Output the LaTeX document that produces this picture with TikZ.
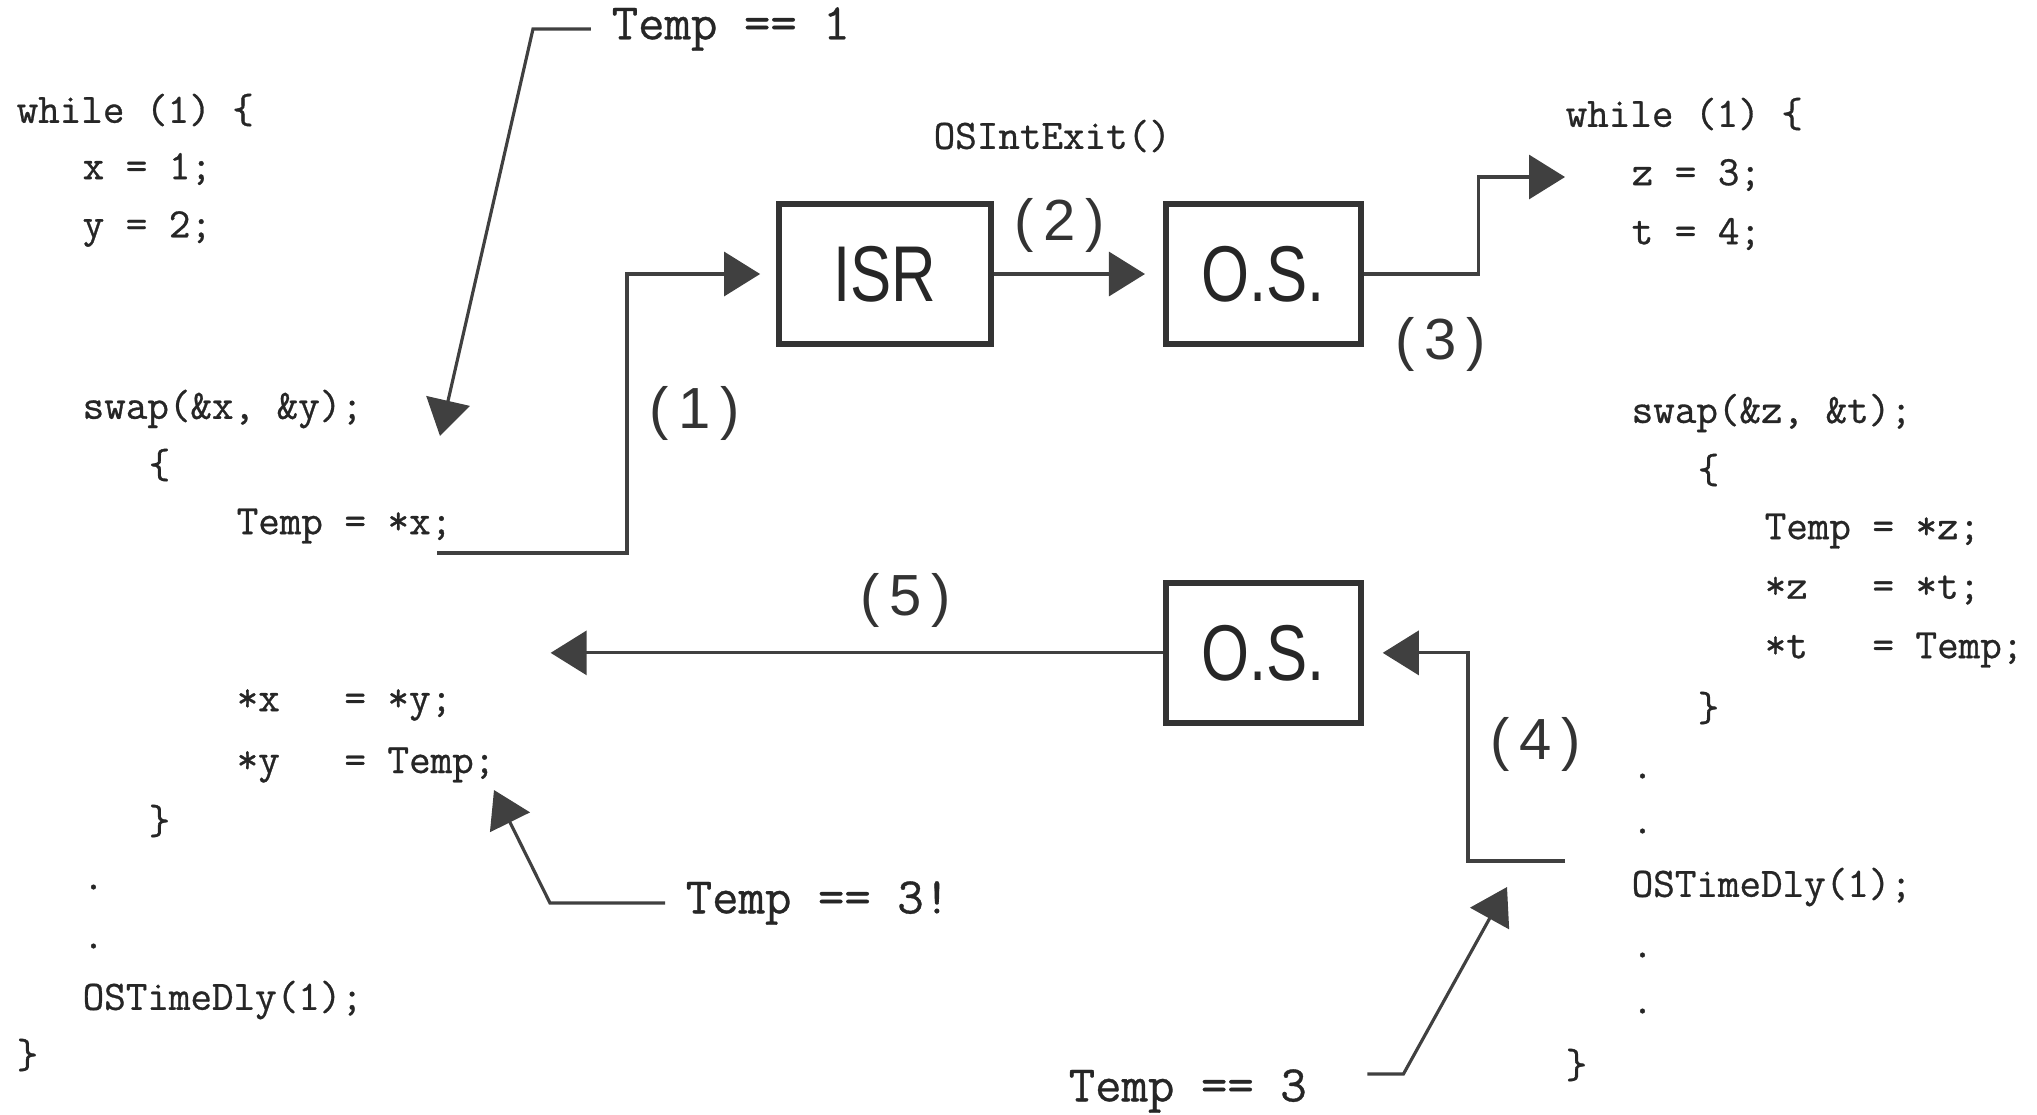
\documentclass[tikz,border=0pt]{standalone}
\usepackage{fontspec}
\setmonofont[FakeBold=0.7]{Latin Modern Mono}
\newfontfamily\boxfont[FakeStretch=0.78]{Liberation Sans}
\newfontfamily\numfont{Liberation Sans}
\usetikzlibrary{arrows.meta, positioning}

\begin{document}
\begin{tikzpicture}[
        x=0.01cm, y=-0.01cm,
        >={Triangle[length=3.6mm, width=4.4mm]},
        Code/.style={anchor=west, inner sep=0pt, font=\ttfamily\fontsize{11.9}{14}\selectfont, text=black!85},
        Note/.style={anchor=west, inner sep=0pt, font=\ttfamily\fontsize{14.6}{17}\selectfont, text=black!85},
        Box/.style={rectangle, draw=black!80, line width=1.6pt, minimum height=1.4cm, font=\boxfont\fontsize{22.5}{26}\selectfont, text=black!85},
        Num/.style={font=\numfont\fontsize{16.5}{20}\selectfont, text=black!80},
        Link/.style={->, draw=black!75, line width=0.9pt}
    ]
    \useasboundingbox (0,0) rectangle (2037,1114);

    % Left task (swap of x and y)
    \node (T1_L1)  [Code] at (16,110)   {while (1) \{};
    \node (T1_L2)  [Code] at (82,169)   {x = 1;};
    \node (T1_L3)  [Code] at (82,229)   {y = 2;};
    \node (T1_L4)  [Code] at (82,409)   {swap(\&x, \&y);};
    \node (T1_L5)  [Code] at (148,465)  {\{};
    \node (T1_L6)  [Code] at (236,526)  {Temp = *x;};
    \node (T1_L7)  [Code] at (236,705)  {*x~~~= *y;};
    \node (T1_L8)  [Code] at (236,765)  {*y~~~= Temp;};
    \node (T1_L9)  [Code] at (148,821)  {\}};
    \node (T1_L10) [Code] at (82,887)   {.};
    \node (T1_L11) [Code] at (82,946)   {.};
    \node (T1_L12) [Code] at (82,1000)  {OSTimeDly(1);};
    \node (T1_L13) [Code] at (16,1055)  {\}};

    % Right task (swap of z and t)
    \node (T2_L1)  [Code] at (1565,114)  {while (1) \{};
    \node (T2_L2)  [Code] at (1631,175)  {z = 3;};
    \node (T2_L3)  [Code] at (1631,234)  {t = 4;};
    \node (T2_L4)  [Code] at (1631,413)  {swap(\&z, \&t);};
    \node (T2_L5)  [Code] at (1697,470)  {\{};
    \node (T2_L6)  [Code] at (1764,531)  {Temp = *z;};
    \node (T2_L7)  [Code] at (1764,590)  {*z~~~= *t;};
    \node (T2_L8)  [Code] at (1764,650)  {*t~~~= Temp;};
    \node (T2_L9)  [Code] at (1697,708)  {\}};
    \node (T2_L10) [Code] at (1631,776)  {.};
    \node (T2_L11) [Code] at (1631,831)  {.};
    \node (T2_L12) [Code] at (1631,887)  {OSTimeDly(1);};
    \node (T2_L13) [Code] at (1631,955)  {.};
    \node (T2_L14) [Code] at (1631,1011) {.};
    \node (T2_L15) [Code] at (1565,1065) {\}};

    % ISR and kernel boxes
    \node (ISR) [Box, minimum width=2.12cm] at (885,274) {ISR};
    \node (OS_1) [Box, minimum width=1.95cm, right=1.69cm of ISR] {O.S.};
    \node (OS_2) [Box, minimum width=1.95cm, below=2.33cm of OS_1] {O.S.};
    \node (EXIT) [Code] at (933,136) {OSIntExit()};

    % Free ends of the connectors
    \coordinate (SRC_1) at (437,553);
    \coordinate (DST_3) at (1565,177);
    \coordinate (SRC_4) at (1565,861);
    \coordinate [left=6.12cm of OS_2.west] (DST_5);

    % Flow of control (1) to (5)
    \draw[Link, shorten >=1.6mm] (SRC_1) -- ++(190,0) |- (ISR.west);
    \draw[Link, shorten >=1.8mm] (ISR) -- (OS_1);
    \draw[Link] (OS_1.east) -- ++(115,0) |- (DST_3);
    \draw[Link, shorten >=1.9mm] (SRC_4) -- ++(-97,0) |- (OS_2.east);
    \draw[Link] (OS_2.west) -- (DST_5);

    \node (N_1) [Num] at (695,413)  {(\,1\,)};
    \node (N_2) [Num] at (1060,225) {(\,2\,)};
    \node (N_3) [Num] at (1441,344) {(\,3\,)};
    \node (N_4) [Num] at (1536,744) {(\,4\,)};
    \node (N_5) [Num] at (906,600)  {(\,5\,)};

    % Values of Temp
    \node (NOTE_T1)  [Note] at (611,29)   {Temp == 1};
    \node (NOTE_T3B) [Note] at (685,903)  {Temp == 3!};
    \node (NOTE_T3)  [Note] at (1068,1091) {Temp == 3};
    \coordinate (TIP_T1)  at (440,436);
    \coordinate (TIP_T3B) at (494,790);
    \coordinate (TIP_T3)  at (1507,887);

    \draw[Link] ([xshift=-2mm]NOTE_T1.west) -- ++(-58,0) -- (TIP_T1);
    \draw[Link] ([xshift=-2mm]NOTE_T3B.west) -- ++(-115,0) -- (TIP_T3B);
    \draw[Link] ([xshift=6mm, yshift=1.7mm]NOTE_T3.east) -- ++(36,0) -- (TIP_T3);

\end{tikzpicture}
\end{document}
